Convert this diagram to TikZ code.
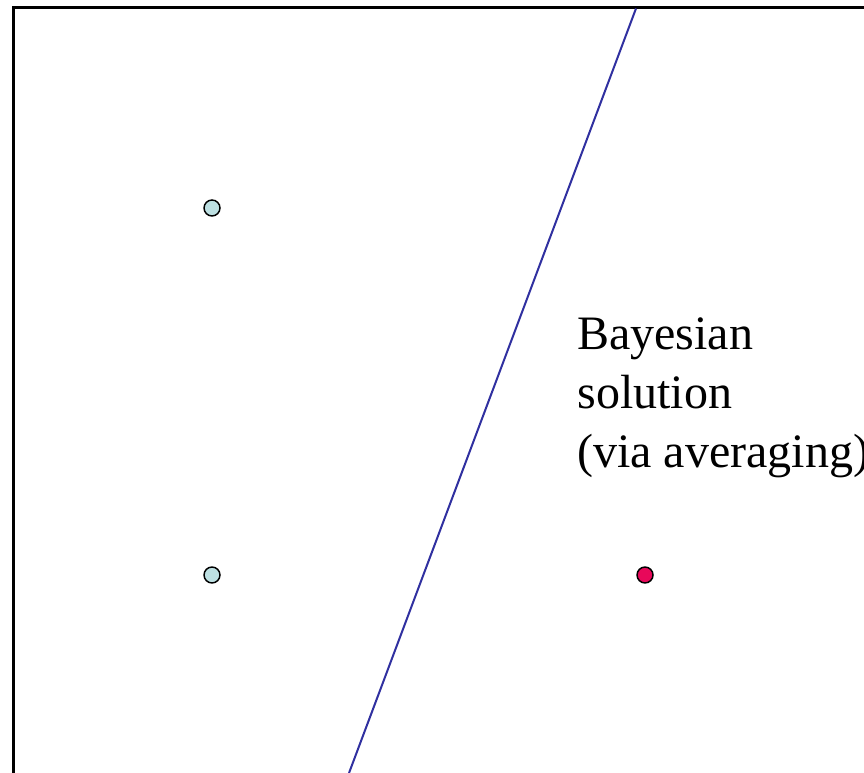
\documentclass[tikz,border=0pt]{standalone}
\usepackage{fontspec}
\setmainfont{Liberation Serif}
\usetikzlibrary{calc}
\definecolor{ptblue}{HTML}{BDE0E2}
\definecolor{ptred}{HTML}{E8085A}
\definecolor{sepline}{HTML}{3030A0}
\tikzset{
  pt/.style={circle,draw,line width=1.1pt,minimum size=12pt,inner sep=0pt},
  lbl/.style={align=left,inner sep=0pt,anchor=base west,
    font=\fontsize{36}{44}\selectfont},
  every picture/.style={line width=0.5pt},
}
\begin{document}
\begin{tikzpicture}[x=0.75pt,y=-0.75pt]
\useasboundingbox (0,0) rectangle (864,773);
\clip (0,0) rectangle (864,773);
\draw[line width=2.2pt] (13.5,790) -- (13.5,7.5) -- (880,7.5);
\coordinate (T) at (636,8.5); \coordinate (U) at (349,773);
\draw[sepline,line width=1.5pt] (T)--(U);
\node[pt,fill=ptblue] (A) at (212,208){}; \node[pt,fill=ptblue] (B) at (212,575){};
\node[pt,fill=ptred] (C) at (645,575){};
% base anchor sits on the last line
\node[lbl] (L) at (577,467){Bayesian\\solution\\(via averaging)};
\end{tikzpicture}
\end{document}
